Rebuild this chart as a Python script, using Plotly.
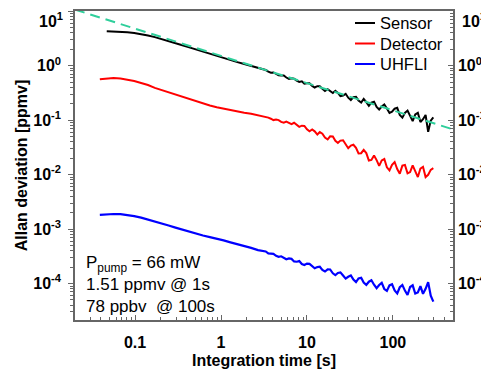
import plotly.graph_objects as go

# ---------------- data ----------------
tau = [0.0389, 0.0468, 0.0562, 0.0676, 0.0813, 0.0977, 0.1175, 0.1413, 0.1698, 0.2042,
       0.2455, 0.2951, 0.3548, 0.4266, 0.5129, 0.6166, 0.7413, 0.8913, 1.072, 1.288,
       1.549, 1.862, 2.239, 2.692,
       3.09, 3.31, 3.55, 3.80, 4.07, 4.37, 4.68, 5.01, 5.37, 5.75, 6.17, 6.61, 7.08, 7.59,
       8.13, 8.71, 9.33, 10.0, 10.7, 11.5, 12.3, 13.2, 14.1, 15.1, 16.2, 17.4, 18.6, 20.0,
       21.4, 22.9, 24.5, 26.3, 28.2, 30.2, 32.4, 34.7, 37.2, 39.8, 42.7, 45.7, 49.0, 52.5,
       56.2, 60.3, 64.6, 69.2, 74.1, 79.4, 85.1, 91.2, 97.7, 104.7, 112.2, 120.2, 128.8,
       138.0, 147.9, 158.5, 169.8, 182.0, 195.0, 208.9, 223.9, 239.9, 257.0, 275.4, 295.1]

tau_sensor = tau[1:]

sensor = [4.30, 4.28, 4.22, 4.12, 3.98, 3.80, 3.58, 3.34, 3.09, 2.84,
          2.60, 2.37, 2.16, 1.97, 1.80, 1.64, 1.50, 1.37, 1.26, 1.16,
          1.07, 0.985, 0.905,
          0.842, 0.830, 0.778, 0.744, 0.749, 0.715, 0.663, 0.661, 0.658, 0.605, 0.572, 0.588,
          0.578, 0.532, 0.503, 0.517, 0.465, 0.473, 0.475, 0.423, 0.397, 0.419, 0.418, 0.377,
          0.342, 0.369, 0.343, 0.314, 0.346, 0.315, 0.275, 0.283, 0.304, 0.258, 0.234, 0.264,
          0.267, 0.228, 0.210, 0.245, 0.213, 0.182, 0.209, 0.218, 0.175, 0.157, 0.177, 0.193,
          0.163, 0.135, 0.143, 0.162, 0.168, 0.124, 0.111, 0.136, 0.149, 0.116, 0.096, 0.127,
          0.136, 0.092, 0.104, 0.124, 0.061, 0.098, 0.112]

detector = [0.56, 0.58, 0.59, 0.58, 0.555, 0.52, 0.48, 0.44, 0.39, 0.355,
            0.32, 0.29, 0.262, 0.238, 0.218, 0.20, 0.185, 0.172, 0.162, 0.151,
            0.145, 0.136, 0.131, 0.123,
            0.118, 0.112, 0.111, 0.106, 0.100, 0.102, 0.100, 0.093, 0.0893, 0.0937, 0.0899,
            0.0845, 0.0893, 0.0804, 0.0751, 0.0790, 0.0781, 0.0679, 0.0623, 0.0672, 0.0622,
            0.0543, 0.0605, 0.0562, 0.0479, 0.0441, 0.0503, 0.0500, 0.0418, 0.0382, 0.0420,
            0.0426, 0.0349, 0.0304, 0.0340, 0.0353, 0.0310, 0.0244, 0.0247, 0.0284, 0.0248,
            0.0181, 0.0186, 0.0224, 0.0184, 0.0144, 0.0182, 0.0193, 0.0136, 0.0119, 0.0151,
            0.0170, 0.0126, 0.0104, 0.0146, 0.0150, 0.0105, 0.0111, 0.0148, 0.0115, 0.0090,
            0.0129, 0.0139, 0.0090, 0.0099, 0.0122, 0.0131]

uhfli = [0.00182, 0.00187, 0.00189, 0.00188, 0.00182, 0.00173, 0.00162, 0.00150, 0.00138, 0.00127,
         0.00116, 0.00106, 0.00097, 0.00089, 0.00082, 0.00076, 0.00071, 0.00067, 0.00062, 0.00057,
         0.00053, 0.00049, 0.00045, 0.00041,
         0.000390, 0.000388, 0.000358, 0.000354, 0.000350, 0.000323, 0.000310, 0.000316,
         0.000300, 0.000278, 0.000288, 0.000283, 0.000254, 0.000251, 0.000258, 0.000228,
         0.000219, 0.000232, 0.000229, 0.000205, 0.000190, 0.000200, 0.000203, 0.000178,
         0.000166, 0.000182, 0.000181, 0.000154, 0.000143, 0.000156, 0.000160, 0.000140,
         0.000123, 0.000133, 0.000141, 0.000118, 0.000106, 0.000124, 0.000127, 0.000104,
         0.0000943, 0.000108, 0.000115, 0.0000951, 0.0000818, 0.0000938, 0.000103, 0.0000792,
         0.0000731, 0.0000924, 0.0000968, 0.0000745, 0.0000656, 0.0000853, 0.0000936, 0.0000741,
         0.0000616, 0.0000862, 0.0000927, 0.0000654, 0.0000684, 0.0000897, 0.0000646, 0.0000798,
         0.000106, 0.0000600, 0.0000465]

# tau^-1/2 fit line (1.51 ppmv @ 1 s), end points
fit_tau = [0.02, 500]
fit_val = [10.68, 0.0675]

series_names = ["Sensor", "Detector", "UHFLI"]
series_colors = ["black", "#ff0000", "#0000ff"]

x_tick_vals = [0.1, 1, 10, 100]
x_tick_text = ["0.1", "1", "10", "100"]
y_tick_vals = [1e-4, 1e-3, 1e-2, 1e-1, 1, 10]
y_tick_text = ["10<sup>-4</sup>", "10<sup>-3</sup>", "10<sup>-2</sup>",
               "10<sup>-1</sup>", "10<sup>0</sup>", "10<sup>1</sup>"]

# minor tick positions (2..9 times each decade)
x_minor = [m * d for d in [0.01, 0.1, 1, 10, 100] for m in range(2, 10)]
y_minor = [m * d for d in [1e-5, 1e-4, 1e-3, 1e-2, 1e-1, 1] for m in range(2, 10)]

FONT = "Arial, Liberation Sans, sans-serif"
AXC = "#666666"

# page body margin offsets the figure by 8 px; geometry is given in window pixels
OFF = 8
PL, PT, PR, PB = 75, 11, 453, 320          # plot box in window pixels
FIG_W, FIG_H = 489 - OFF, 377 - OFF

def px(sx):
    return (sx - PL) / (PR - PL)

def py(sy):
    return (PB - sy) / (PB - PT)

fig = go.Figure()
fig.add_trace(go.Scatter(x=tau_sensor, y=sensor, mode="lines", name=series_names[0],
                         showlegend=False, line=dict(color=series_colors[0], width=2)))
fig.add_trace(go.Scatter(x=tau, y=detector, mode="lines", name=series_names[1],
                         showlegend=False, line=dict(color=series_colors[1], width=2)))
fig.add_trace(go.Scatter(x=tau, y=uhfli, mode="lines", name=series_names[2],
                         showlegend=False, line=dict(color=series_colors[2], width=2.2)))
fig.add_trace(go.Scatter(x=fit_tau, y=fit_val, mode="lines", showlegend=False,
                         yaxis="y2",
                         line=dict(color="#2fcf9b", width=2, dash="10px,6px")))

# legend drawn as line samples + labels (compact rows like the reference)
legend_rows = [23, 43.5, 64]
for name, col, yrow in zip(series_names, series_colors, legend_rows):
    fig.add_shape(type="line", xref="paper", yref="paper",
                  x0=px(355), x1=px(375), y0=py(yrow), y1=py(yrow),
                  line=dict(color=col, width=2))
    fig.add_annotation(xref="paper", yref="paper", x=px(378), y=py(yrow),
                       xanchor="left", yanchor="middle", showarrow=False,
                       text=name, font=dict(size=16.5, color="black", family=FONT))

# axis tick labels; the top decade label is placed just inside the page edge
axis_tick_text = ["<b>%s</b>" % t for t in y_tick_text[:-1]] + [""]
top_label = "<b>%s</b>" % y_tick_text[-1]

yrange = [-4.67, 1.003]
yaxis_common = dict(type="log", range=yrange, automargin=False,
                    tickvals=y_tick_vals, ticktext=axis_tick_text,
                    ticklen=5, tickcolor=AXC, showgrid=False, zeroline=False,
                    showline=True, linecolor=AXC, linewidth=1.5,
                    tickfont=dict(size=16))

fig.update_layout(
    width=FIG_W, height=FIG_H,
    margin=dict(l=PL - OFF, r=FIG_W - (PR - OFF), t=PT - OFF, b=FIG_H - (PB - OFF)),
    paper_bgcolor="white", plot_bgcolor="white",
    font=dict(family=FONT, size=16, color="black"),
    showlegend=False,
    xaxis=dict(type="log", range=[-1.699, 2.699], automargin=False,
               tickvals=x_tick_vals, ticktext=["<b>%s</b>" % t for t in x_tick_text],
               ticks="inside", ticklen=5, tickcolor=AXC,
               minor=dict(tickvals=x_minor, ticks="inside", ticklen=3, tickcolor=AXC, showgrid=False),
               showgrid=False, zeroline=False,
               showline=True, linecolor=AXC, linewidth=1.5, mirror=True,
               tickfont=dict(size=16), ticklabelstandoff=7,
               title=dict(text="<b>Integration time [s]</b>", font=dict(size=16), standoff=5)),
    yaxis=dict(**yaxis_common, ticks="outside", ticklabelstandoff=4,
               minor=dict(tickvals=y_minor, ticks="outside", ticklen=3, tickcolor=AXC, showgrid=False),
               title=dict(text="<b>Allan deviation [ppmv]</b>", font=dict(size=16), standoff=2)),
    yaxis2=dict(**yaxis_common, overlaying="y", side="right", ticks="inside",
                minor=dict(tickvals=y_minor, ticks="inside", ticklen=3, tickcolor=AXC, showgrid=False)),
)

for xpos, anchor in [(px(65), "right"), (px(460), "left")]:
    fig.add_annotation(xref="paper", yref="paper", x=xpos, y=py(8.5),
                       xanchor=anchor, yanchor="top", showarrow=False,
                       text=top_label, font=dict(size=16, color="black", family=FONT))

fig.add_annotation(
    xref="paper", yref="paper", x=px(84), y=py(318), xanchor="left", yanchor="bottom",
    align="left", showarrow=False,
    text="P<sub>pump</sub> = 66 mW<br>1.51 ppmv @ 1s<br>78 ppbv\u00a0 @ 100s",
    font=dict(size=17, color="black", family=FONT),
)

fig.write_html("out.html")
